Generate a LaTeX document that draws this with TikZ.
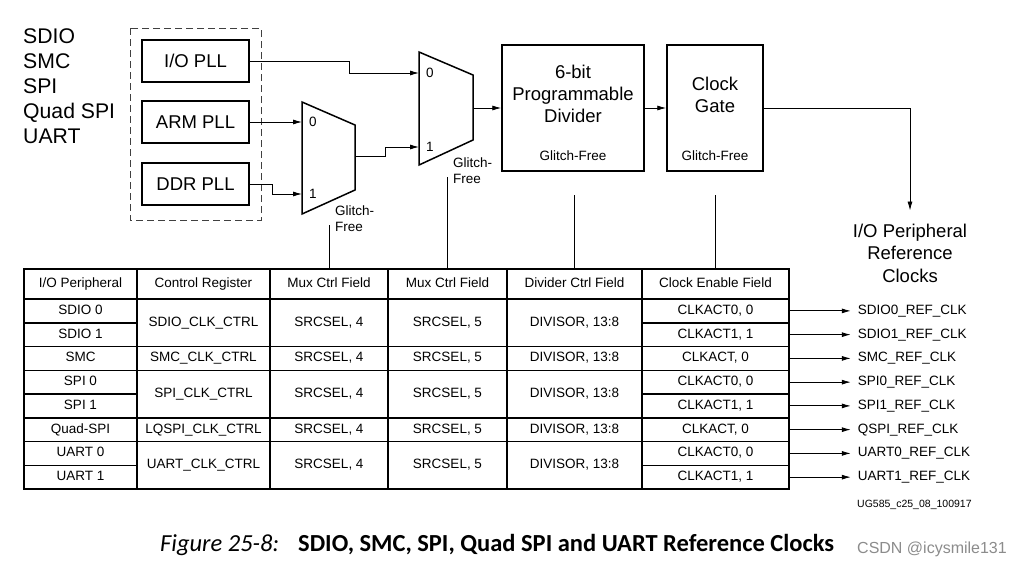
\documentclass[tikz,border=0pt]{standalone}
\usepackage{fontspec}
\setmainfont{Liberation Sans}
\newfontfamily\capfont{Carlito}
\usetikzlibrary{positioning,arrows.meta}

\newcommand{\tcell}[6]{\node[cell, minimum width={(#3)-(#2)}, minimum height={(#5)-(#4)}]
    (#1) at ({((#2)+(#3))/2},{((#4)+(#5))/2}) {#6};}

\begin{document}
\begin{tikzpicture}[x=1pt, y=-1pt,
          every node/.style = {align=center, inner sep=0pt},
          big/.style = {font=\fontsize{18.5}{22}\selectfont},
          small/.style = {font=\fontsize{13.5}{16}\selectfont},
          block/.style = {draw, line width=1.5pt},
          cell/.style = {draw, line width=1.5pt, text height=.72em, text depth=0pt,
            font=\fontsize{13.5}{16}\selectfont},
          reflabel/.style = {text height=.72em, text depth=0pt,
            font=\fontsize{13.5}{16}\selectfont},
          wire/.style = {line width=0.8pt, -{Latex[length=9pt, width=5pt]}},
          ctrl/.style = {line width=0.8pt}]
    \fill[white] (0,0) rectangle (1024,568);
    \useasboundingbox (0,0) rectangle (1024,568);

    % peripherals and PLL sources
    \node[anchor=north west, align=left, font=\fontsize{21.2}{25}\selectfont]
        (periph) at (23,28.5) {SDIO\\SMC\\SPI\\Quad SPI\\UART};
    \draw[line width=1pt, black!75, dash pattern=on 7pt off 4pt] (130,28) rectangle (261,220);
    \node[block, big, minimum width=107, minimum height=42] (iopll) at (195.5,61) {I/O PLL};
    \node[block, big, minimum width=107, minimum height=42] (armpll) at (195.5,122) {ARM PLL};
    \node[block, big, minimum width=107, minimum height=42] (ddrpll) at (195.5,184) {DDR PLL};

    % glitch-free muxes
    \draw[block] (302,102) -- (355,125) -- (355,190) -- (302,214) -- cycle;
    \coordinate (muxa0) at (302,122);
    \coordinate (muxa1) at (302,194);
    \coordinate (muxaout) at (355,156);
    \node[small, anchor=west] at (309,122) {0};
    \node[small, anchor=west] at (309,194) {1};
    \node[small, anchor=west, align=left] (gfa) at (335,219) {Glitch-\\Free};

    \draw[block] (419,52) -- (473,75) -- (473,140) -- (419,165) -- cycle;
    \coordinate (muxb0) at (419,73);
    \coordinate (muxb1) at (419,147);
    \coordinate (muxbout) at (473,108);
    \node[small, anchor=west] at (426,73) {0};
    \node[small, anchor=west] at (426,147) {1};
    \node[small, anchor=west, align=left] (gfb) at (453,171) {Glitch-\\Free};

    % divider and clock gate
    \node[block, minimum width=142, minimum height=126] (divider) at (573,108) {};
    \node[big] (divtxt) at (573,94) {6-bit\\Programmable\\Divider};
    \node[small] (divgf) at (573,156) {Glitch-Free};
    \node[block, minimum width=96, minimum height=126] (gate) at (715,108) {};
    \node[big] (gatetxt) at (715,94.5) {Clock\\Gate};
    \node[small] (gategf) at (715,156) {Glitch-Free};
    \node[font=\fontsize{18.5}{22.5}\selectfont] (refclks) at (910,253)
        {I/O Peripheral\\Reference\\Clocks};

    \draw[wire] (iopll.east) -- ++(100,0) |- (muxb0);
    \draw[wire] (armpll.east) -- (muxa0);
    \draw[wire] (ddrpll.east) -- ++(23,0) |- (muxa1);
    \draw[wire] (muxaout) -- ++(30,0) |- (muxb1);
    \draw[wire] (muxbout) -- (divider.west);
    \draw[wire] (divider.east) -- (gate.west);
    \draw[wire, shorten >=13pt] (gate.east) -| (refclks.north);

    % register table
    \foreach \xa/\xb/\txt [count=\c] in {24/137/{I/O Peripheral}, 137/270/{Control Register},
            270/388/{Mux Ctrl Field}, 388/507/{Mux Ctrl Field},
            507/642/{Divider Ctrl Field}, 642/789/{Clock Enable Field}}
        {\tcell{head\c}{\xa}{\xb}{269}{299}{\txt}}
    \foreach \ya/\yb/\reg [count=\g] in {299/346.5/SDIO, 346.5/370.25/SMC,
            370.25/417.75/SPI, 417.75/441.5/LQSPI, 441.5/489/UART}
    {
        \tcell{reg\g}{137}{270}{\ya}{\yb}{\reg\_CLK\_CTRL}
        \tcell{srca\g}{270}{388}{\ya}{\yb}{SRCSEL, 4}
        \tcell{srcb\g}{388}{507}{\ya}{\yb}{SRCSEL, 5}
        \tcell{div\g}{507}{642}{\ya}{\yb}{DIVISOR, 13:8}
    }
    \foreach \per/\act/\clk [count=\i] in {SDIO 0/{CLKACT0, 0}/SDIO0, SDIO 1/{CLKACT1, 1}/SDIO1,
            SMC/{CLKACT, 0}/SMC, SPI 0/{CLKACT0, 0}/SPI0, SPI 1/{CLKACT1, 1}/SPI1,
            Quad-SPI/{CLKACT, 0}/QSPI, UART 0/{CLKACT0, 0}/UART0, UART 1/{CLKACT1, 1}/UART1}
    {
        \pgfmathsetmacro\ya{299+23.75*(\i-1)}
        \pgfmathsetmacro\yb{\ya+23.75}
        \tcell{per\i}{24}{137}{\ya}{\yb}{\per}
        \tcell{clken\i}{642}{789}{\ya}{\yb}{\act}
        \node[reflabel, right=68pt of clken\i.east] (ref\i) {\clk\_REF\_CLK};
        \draw[wire, shorten >=7pt] (clken\i.east) -- (ref\i.west);
    }

    % control fields
    \draw[ctrl] (head3.north) -- (head3.north |- 0,225);
    \draw[ctrl] (head4.north) -- (head4.north |- 0,177);
    \draw[ctrl] (head5.north) -- (head5.north |- 0,195);
    \draw[ctrl] (head6.north) -- (head6.north |- 0,195);

    \node[font=\fontsize{10.5}{12}\selectfont, anchor=west] (docid) at (857,505) {UG585\_c25\_08\_100917};
    \node[font=\capfont\fontsize{24.5}{28}\selectfont\itshape, anchor=west] (figno) at (160,545) {Figure 25-8:};
    \node[font=\capfont\fontsize{24.5}{28}\selectfont\bfseries, anchor=west] (figtitle) at (298,545)
        {SDIO, SMC, SPI, Quad SPI and UART Reference Clocks};
    \node[font=\fontsize{16}{18}\selectfont, text=black!45, anchor=west] (mark) at (857,549) {CSDN @icysmile131};
\end{tikzpicture}
\end{document}
